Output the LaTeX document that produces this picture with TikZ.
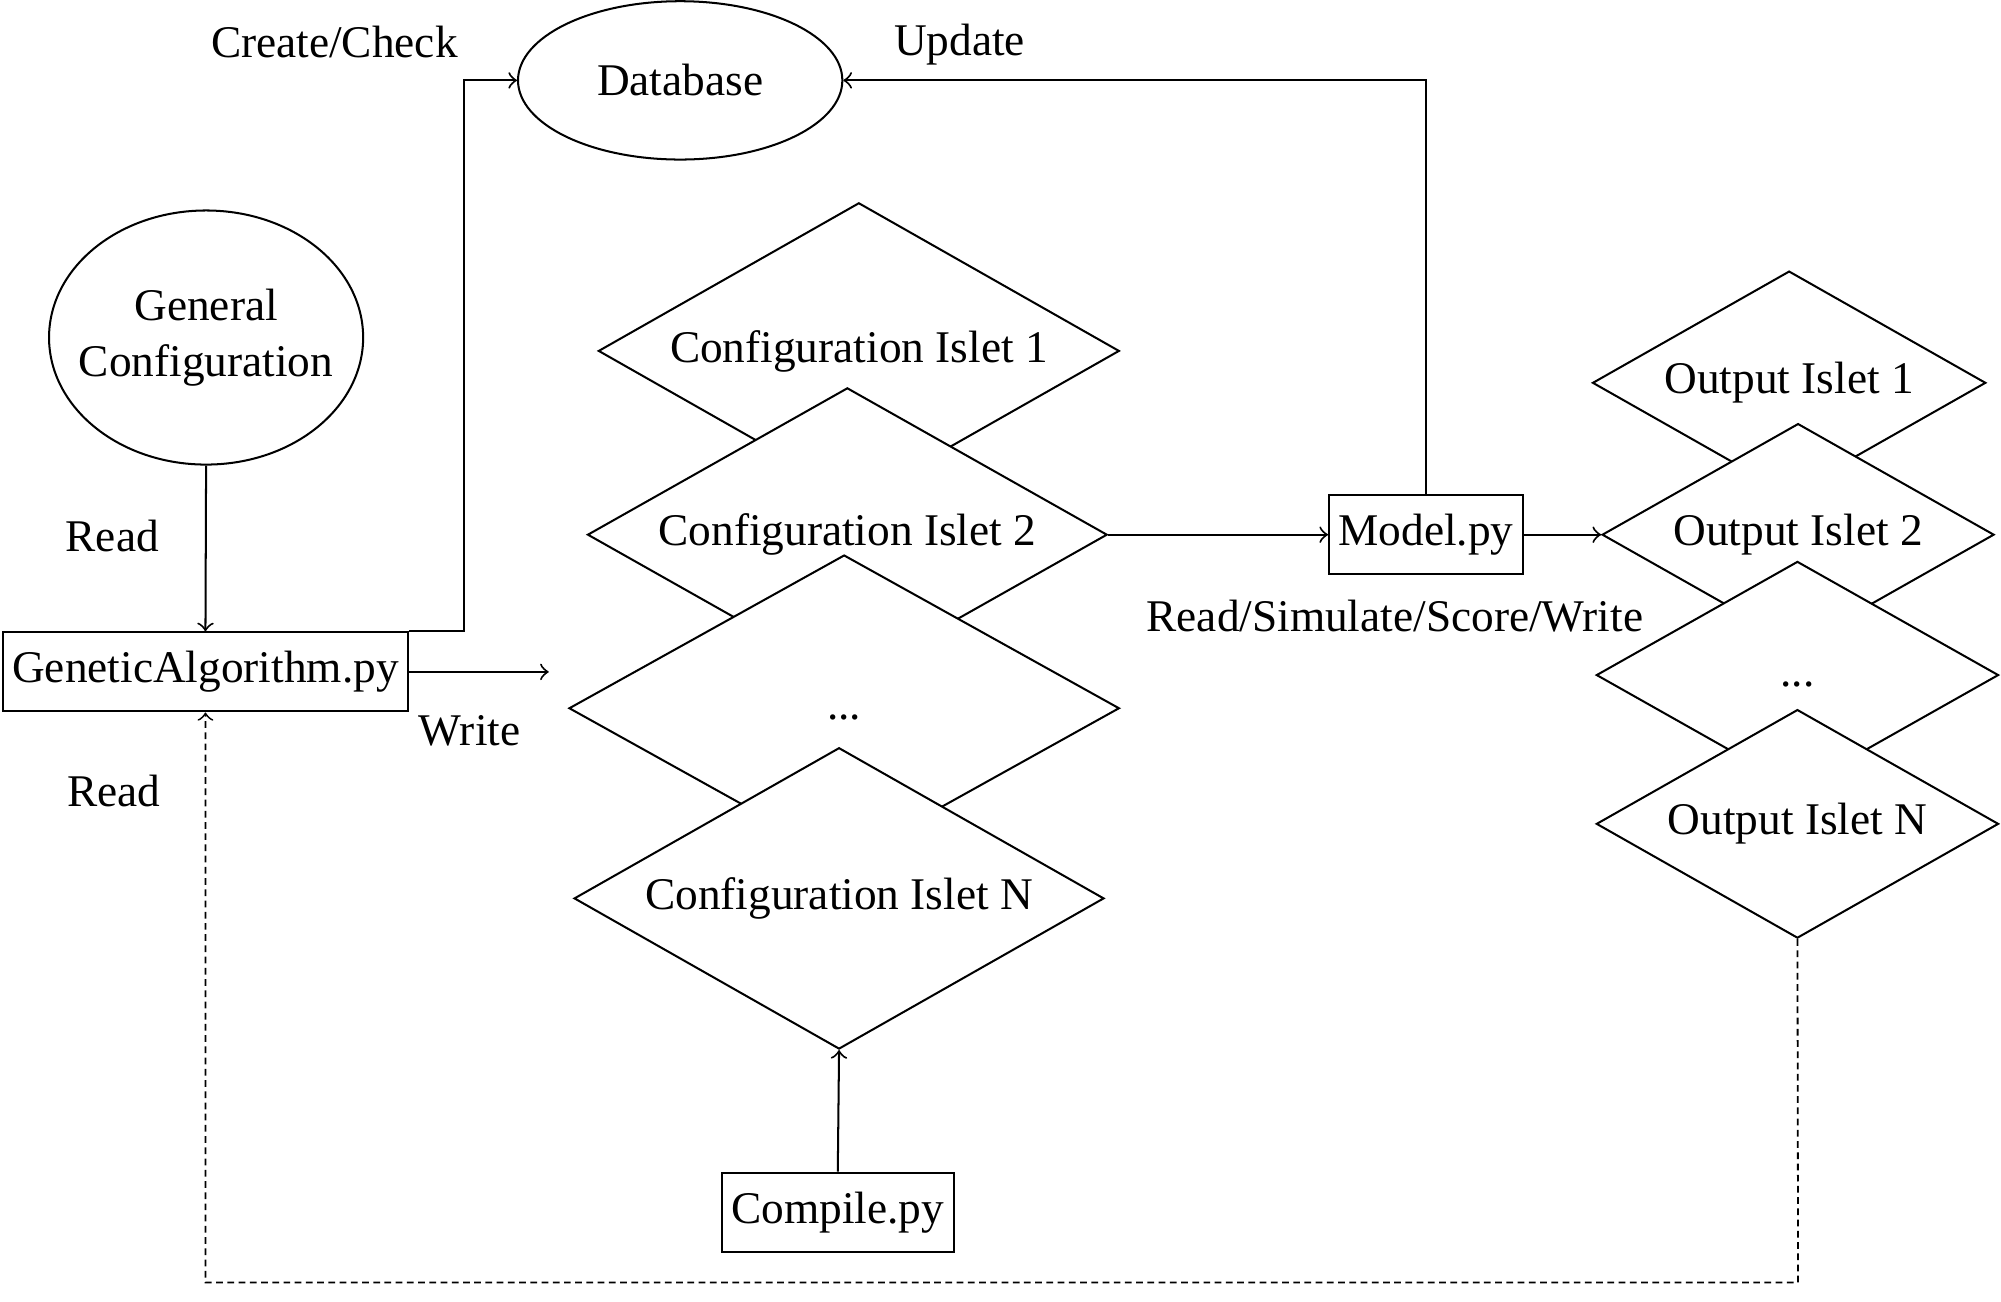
\documentclass[tikz,border=0pt]{standalone}
\usepackage{fontspec}
\setmainfont{Liberation Serif}
\usetikzlibrary{shapes.geometric}
\begin{document}
\begin{tikzpicture}[x=0.01cm,y=-0.01cm,
  every node/.style={font=\fontsize{10.1pt}{12.4pt}\selectfont},
  line/.style={line width=0.45pt},
  arr/.style={line width=0.45pt,->},
  dashline/.style={line width=0.4pt,dash pattern=on 1.5pt off 1pt},
  pybox/.style={draw,line width=0.45pt,rectangle,inner xsep=0.075cm,minimum height=0.62cm,fill=white},
  oval/.style={draw,line width=0.45pt,ellipse,inner sep=0pt,align=center},
  dia/.style={draw,line width=0.45pt,diamond,inner sep=0pt,shape aspect=1.76,fill=white},
  lbl/.style={inner sep=0pt}
]
\useasboundingbox (0,0) rectangle (1568,1020.2);

% ellipses
\node[oval,minimum width=2.54cm,minimum height=1.24cm] (db) at (533,63) {Database};
\node[oval,inner xsep=-0.2cm,minimum width=2.46cm,minimum height=1.99cm] (gc) at (161.5,264.5) {General\\Configuration};

% boxes
\node[pybox] (ga) at (161,526.5) {GeneticAlgorithm.py};
\node[pybox] (model) at (1117.5,419) {Model.py};
\node[pybox] (comp) at (656.5,950) {Compile.py};

% configuration islets
\node[dia,minimum width=4.08cm,minimum height=2.32cm] (c1) at (673,275) {\strut Configuration Islet 1};
\node[dia,minimum width=4.07cm,minimum height=2.30cm] (c2) at (664,419) {\strut Configuration Islet 2};
\node[dia,minimum width=4.31cm,minimum height=2.40cm] (c3) at (661.5,555) {\strut ...};
\node[dia,minimum width=4.15cm,minimum height=2.36cm] (cn) at (657.5,704) {\strut Configuration Islet N};

% output islets
\node[dia,minimum width=3.08cm,minimum height=1.75cm] (o1) at (1402,300) {\strut Output Islet 1};
\node[dia,minimum width=3.07cm,minimum height=1.74cm] (o2) at (1409,419) {\strut Output Islet 2};
\node[dia,minimum width=3.15cm,minimum height=1.78cm] (o3) at (1408.5,529) {\strut ...};
\node[dia,minimum width=3.15cm,minimum height=1.79cm] (on) at (1408.5,645.6) {\strut Output Islet N};

% labels
\node[lbl] (lcc) at (262,33) {Create/Check};
\node[lbl] (lup) at (752,35) {Update};
\node[lbl] (lr1) at (88,420) {Read};
\node[lbl] (lw) at (368,573) {Write};
\node[lbl] (lr2) at (89,620) {Read};
\node[lbl] (lrs) at (1093,483) {Read/Simulate/Score/Write};

% connectors
\coordinate (wend) at (430,526.5);
\coordinate (dbot) at (1409,1005);
\coordinate (dleft) at (161,1005);
\draw[arr] (gc.south) -- (ga.north);
\draw[arr] (ga.north east) -- ++(43,0) |- (db.west);
\draw[arr] (ga.east) -- (wend);
\draw[arr] (c2.east) -- (model.west);
\draw[arr] (model.east) -- (o2.west);
\draw[arr] (model.north) |- (db.east);
\draw[arr] (comp.north) -- (cn.south);
\draw[dashline,->] (on.south) -- (dbot) -- (dleft) -- (ga.south);
\end{tikzpicture}
\end{document}
